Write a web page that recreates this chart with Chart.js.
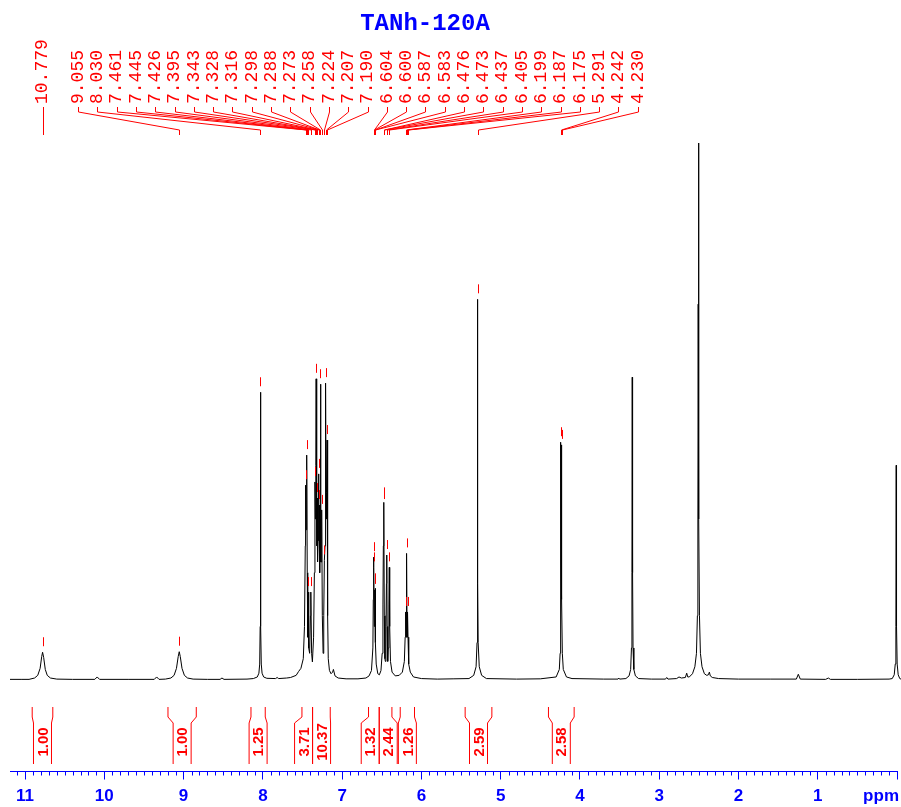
<!DOCTYPE html>
<html>
<head>
<meta charset="utf-8">
<title>TANh-120A</title>
<script src="https://cdn.jsdelivr.net/npm/chart.js@4.4.1/dist/chart.umd.min.js"></script>
<style>
    html, body { margin: 0; padding: 0; background: #fff; }
</style>
</head>
<body>
<canvas id="nmrChart" width="901" height="807"></canvas>
<script>
const titulo = 'TANh-120A';

// trazo del espectro: [ppm, intensidad]
const espectro = [
    [11.19, 0.15], [11.05, 0.15], [10.95, 0.15], [10.88, 0.4], [10.84, 0.9], [10.81, 2.2], [10.79, 4.4],
    [10.779, 5.2], [10.765, 4.2], [10.745, 2.0], [10.72, 0.9], [10.68, 0.4], [10.60, 0.2], [10.40, 0.15],
    [10.12, 0.15], [10.09, 0.6], [10.06, 0.15], [9.70, 0.15], [9.37, 0.15], [9.34, 0.6], [9.31, 0.15],
    [9.23, 0.2], [9.16, 0.4], [9.12, 0.9], [9.09, 2.2], [9.068, 4.4], [9.055, 5.3], [9.042, 4.4],
    [9.02, 2.2], [8.99, 0.9], [8.95, 0.4], [8.88, 0.2], [8.70, 0.15], [8.54, 0.15], [8.516, 0.4], [8.49, 0.15],
    [8.20, 0.2], [8.12, 0.3], [8.07, 0.6], [8.05, 1.3], [8.04, 3.0], [8.034, 10], [8.030, 53.6], [8.026, 10],
    [8.02, 3.0], [8.01, 1.3], [7.99, 0.6], [7.95, 0.35], [7.84, 0.3], [7.82, 0.5], [7.80, 0.3], [7.70, 0.4],
    [7.65, 0.5], [7.58, 0.9], [7.55, 1.6], [7.52, 2.2], [7.49, 4.0], [7.475, 10], [7.465, 25], [7.461, 36.3],
    [7.455, 28], [7.449, 35], [7.445, 41.9], [7.440, 20], [7.434, 8], [7.430, 12], [7.426, 16.4], [7.418, 6],
    [7.410, 5], [7.400, 12], [7.395, 16.4], [7.385, 5], [7.375, 3.4], [7.360, 8], [7.350, 20], [7.343, 36.9],
    [7.337, 30], [7.332, 40], [7.328, 56.1], [7.323, 25], [7.319, 28], [7.316, 33.9], [7.310, 22], [7.303, 26],
    [7.298, 38.4], [7.293, 26], [7.288, 32.6], [7.283, 20], [7.278, 30], [7.273, 55.1], [7.268, 22], [7.263, 22],
    [7.258, 31.7], [7.250, 12], [7.240, 5], [7.232, 12], [7.224, 22.3], [7.216, 25], [7.211, 40], [7.207, 55.3],
    [7.202, 30], [7.197, 35], [7.190, 44.7], [7.183, 12], [7.175, 4], [7.160, 1.8], [7.140, 1.2], [7.120, 1.5],
    [7.110, 2.0], [7.090, 0.8], [7.050, 0.4], [6.950, 0.25], [6.800, 0.25], [6.700, 0.4], [6.660, 0.8],
    [6.630, 1.8], [6.612, 6], [6.607, 15], [6.604, 22.9], [6.602, 18], [6.600, 21.0], [6.594, 10], [6.590, 12],
    [6.587, 16.8], [6.585, 14], [6.583, 17.1], [6.578, 7], [6.570, 3], [6.550, 1.2], [6.530, 1.0], [6.510, 1.8],
    [6.495, 5], [6.485, 14], [6.480, 25], [6.476, 33.1], [6.4745, 30], [6.473, 32.6], [6.468, 12], [6.460, 4],
    [6.455, 3.5], [6.447, 10], [6.441, 18], [6.437, 23.3], [6.432, 10], [6.425, 3.5], [6.418, 6], [6.410, 14],
    [6.405, 21.0], [6.400, 10], [6.390, 3.5], [6.370, 1.5], [6.330, 0.8], [6.280, 0.9], [6.240, 1.5],
    [6.215, 3.5], [6.205, 8], [6.199, 12.7], [6.193, 8], [6.187, 23.6], [6.181, 8], [6.175, 12.7], [6.169, 8],
    [6.160, 3], [6.140, 1.5], [6.100, 0.6], [6.000, 0.3], [5.800, 0.2], [5.600, 0.25], [5.400, 0.3],
    [5.340, 0.9], [5.310, 2.5], [5.298, 7], [5.294, 18], [5.291, 70.9], [5.288, 18], [5.284, 7], [5.270, 2.5],
    [5.240, 0.9], [5.180, 0.3], [4.800, 0.2], [4.500, 0.25], [4.300, 0.6], [4.260, 2.0], [4.250, 5],
    [4.245, 15], [4.242, 44.3], [4.238, 22], [4.236, 20], [4.233, 22], [4.230, 43.8], [4.227, 15], [4.222, 5],
    [4.210, 2.0], [4.170, 0.6], [4.100, 0.3], [3.700, 0.2], [3.520, 0.2], [3.510, 0.4], [3.500, 0.2],
    [3.420, 0.3], [3.380, 0.8], [3.360, 2.0], [3.350, 6], [3.344, 20], [3.340, 56.4], [3.336, 20], [3.330, 6],
    [3.320, 2.0], [3.300, 0.8], [3.260, 0.3], [3.100, 0.2], [2.920, 0.2], [2.905, 0.5], [2.890, 0.2],
    [2.780, 0.3], [2.750, 0.6], [2.720, 0.4], [2.670, 0.5], [2.653, 1.3], [2.640, 0.6], [2.620, 0.6],
    [2.580, 1.2], [2.550, 2.5], [2.530, 5], [2.518, 12], [2.512, 30], [2.508, 70], [2.505, 100], [2.502, 70],
    [2.498, 30], [2.492, 12], [2.480, 5], [2.460, 2.5], [2.430, 1.2], [2.400, 0.9], [2.380, 1.0], [2.367, 1.5],
    [2.355, 0.8], [2.330, 0.5], [2.250, 0.3], [2.000, 0.2], [1.600, 0.2], [1.270, 0.2], [1.245, 1.1],
    [1.220, 0.2], [0.900, 0.15], [0.866, 0.4], [0.840, 0.15], [0.500, 0.15], [0.100, 0.2], [0.060, 0.3],
    [0.035, 1.0], [0.022, 3], [0.014, 10], [0.010, 40], [0.006, 10], [-0.002, 3], [-0.015, 1.0],
    [-0.035, 0.3], [-0.050, 0.2]
];

// picos marcados
const picos = [
    10.779, 9.055, 8.030, 7.461, 7.445, 7.426, 7.395, 7.343, 7.328, 7.316, 7.298, 7.288, 7.273, 7.258,
    7.224, 7.207, 7.190, 6.604, 6.600, 6.587, 6.583, 6.476, 6.473, 6.437, 6.405, 6.199, 6.187, 6.175,
    5.291, 4.242, 4.230
];

// integrales
const intDesde = [10.91, 9.197, 8.15, 7.507, 7.373, 6.667, 6.532, 6.267, 5.448, 4.397];
const intHasta = [10.65, 8.84, 7.97, 7.373, 7.15, 6.532, 6.372, 6.087, 5.111, 4.073];
const intValor = ['1.00', '1.00', '1.25', '3.71', '10.37', '1.32', '2.44', '1.26', '2.59', '2.58'];

// eje
const ejeEtiquetas = [11, 10, 9, 8, 7, 6, 5, 4, 3, 2, 1];
const ppmMin = 0;
const ppmMax = 11.19;

const rojo = '#ff0000';
const azul = '#0000ff';

function alturaPico(p){
    const punto = espectro.find(e => Math.abs(e[0] - p) < 1e-6);
    return punto ? punto[1] : 0;
}

const anotaciones = {
    id: 'anotaciones',
    afterDraw(chart){
        const ctx = chart.ctx;
        const sx = chart.scales.x;
        const sy = chart.scales.y;
        const area = chart.chartArea;

        ctx.save();

        // titulo
        ctx.fillStyle = azul;
        ctx.font = 'bold 24px "Liberation Mono"';
        ctx.textAlign = 'center';
        ctx.textBaseline = 'middle';
        ctx.fillText(titulo, 425, 24);

        // marcas menores del eje
        ctx.strokeStyle = azul;
        ctx.lineWidth = 1;
        ctx.beginPath();
        for(let k = 0; k <= Math.floor(ppmMax * 10); k++){
            if(k % 10 === 0) continue;
            const px = Math.round(sx.getPixelForValue(k / 10)) + 0.5;
            ctx.moveTo(px, area.bottom);
            ctx.lineTo(px, area.bottom + 4);
        }
        ctx.stroke();

        // etiquetas del eje
        ctx.fillStyle = azul;
        ctx.font = 'bold 17px "Liberation Sans"';
        ctx.textAlign = 'center';
        ctx.textBaseline = 'middle';
        ejeEtiquetas.forEach(v => {
            ctx.fillText(String(v), sx.getPixelForValue(v), 796);
        });
        ctx.textAlign = 'right';
        ctx.fillText('ppm', 899, 796);

        // etiquetas de picos, agrupadas
        const gap = 19.3;
        let grupos = picos.map((p, i) => ({ idx: [i], xs: [sx.getPixelForValue(p)] }));
        const centro = g => g.xs.reduce((a, b) => a + b, 0) / g.xs.length;
        const izq = g => centro(g) - (g.xs.length - 1) * gap / 2;
        const der = g => centro(g) + (g.xs.length - 1) * gap / 2;
        let cambio = true;
        while(cambio){
            cambio = false;
            for(let i = 0; i < grupos.length - 1; i++){
                if(izq(grupos[i + 1]) < der(grupos[i]) + gap){
                    grupos[i] = {
                        idx: grupos[i].idx.concat(grupos[i + 1].idx),
                        xs: grupos[i].xs.concat(grupos[i + 1].xs)
                    };
                    grupos.splice(i + 1, 1);
                    cambio = true;
                    break;
                }
            }
        }

        ctx.strokeStyle = rojo;
        ctx.fillStyle = rojo;
        ctx.lineWidth = 1;
        ctx.font = '18px "Liberation Mono"';
        ctx.textAlign = 'left';
        ctx.textBaseline = 'middle';

        grupos.forEach(g => {
            const inicio = izq(g);
            g.idx.forEach((pi, k) => {
                const lx = inicio + k * gap;
                const px = sx.getPixelForValue(picos[pi]);

                ctx.save();
                ctx.translate(lx, 104);
                ctx.rotate(-Math.PI / 2);
                ctx.fillText(picos[pi].toFixed(3), 0, 0);
                ctx.restore();

                ctx.beginPath();
                ctx.moveTo(Math.round(lx) + 0.5, 107);
                ctx.lineTo(Math.round(lx) + 0.5, 112);
                ctx.lineTo(Math.round(px) + 0.5, 130);
                ctx.lineTo(Math.round(px) + 0.5, 135);
                ctx.stroke();

                // marca sobre el pico
                const top = sy.getPixelForValue(alturaPico(picos[pi]));
                ctx.beginPath();
                ctx.moveTo(Math.round(px) + 0.5, top - 15);
                ctx.lineTo(Math.round(px) + 0.5, top - 6);
                ctx.stroke();
            });
        });

        // integrales
        ctx.font = 'bold 15px "Liberation Sans"';
        ctx.textAlign = 'center';
        ctx.textBaseline = 'middle';
        const ancho = 18;
        intDesde.forEach((d, i) => {
            const a = sx.getPixelForValue(d);
            const b = sx.getPixelForValue(intHasta[i]);
            const m = (a + b) / 2;
            let l = m - ancho / 2;
            let r = m + ancho / 2;
            if(i < intDesde.length - 1 && Math.abs(intDesde[i + 1] - intHasta[i]) < 1e-6 && r > b){
                l -= r - b;
                r = b;
            }
            if(i > 0 && Math.abs(intHasta[i - 1] - d) < 1e-6 && l < a){
                r += a - l;
                l = a;
            }
            ctx.beginPath();
            ctx.moveTo(a, 707);
            ctx.lineTo(a, 717);
            ctx.lineTo(l, 723);
            ctx.lineTo(l, 764);
            ctx.moveTo(b, 707);
            ctx.lineTo(b, 717);
            ctx.lineTo(r, 723);
            ctx.lineTo(r, 764);
            ctx.stroke();

            ctx.save();
            ctx.translate((l + r) / 2 + 1, 742);
            ctx.rotate(-Math.PI / 2);
            ctx.fillText(intValor[i], 0, 0);
            ctx.restore();
        });

        ctx.restore();
    }
};

const ctx1 = document.getElementById('nmrChart');

new Chart(ctx1, {
    type: 'line',
    data: {
        datasets: [{
            label: titulo,
            data: espectro.map(e => ({ x: e[0], y: e[1] })),
            borderColor: '#000000',
            borderWidth: 1,
            pointRadius: 0,
            tension: 0,
            fill: false,
            clip: false
        }]
    },
    options: {
        responsive: false,
        animation: false,
        layout: {
            padding: { left: 10, right: 4, top: 143, bottom: 27.5 }
        },
        plugins: {
            legend: { display: false },
            tooltip: { enabled: false }
        },
        scales: {
            x: {
                type: 'linear',
                reverse: true,
                min: ppmMin,
                max: ppmMax,
                border: { display: true, color: azul, width: 1 },
                grid: {
                    drawOnChartArea: false,
                    drawTicks: true,
                    tickLength: 8,
                    tickColor: azul
                },
                ticks: {
                    display: false,
                    stepSize: 1,
                    includeBounds: false
                }
            },
            y: {
                display: false,
                min: -17,
                max: 100
            }
        }
    },
    plugins: [anotaciones]
});
</script>
</body>
</html>
